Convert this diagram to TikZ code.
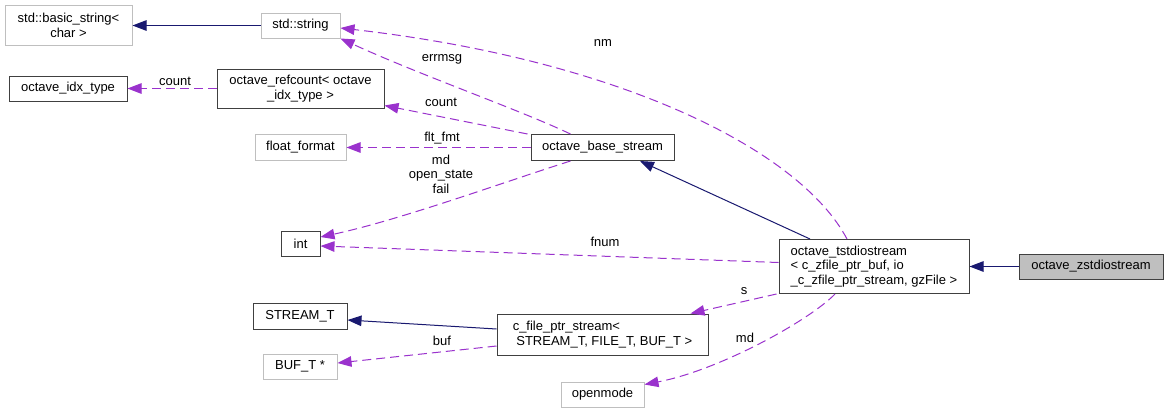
\documentclass[tikz,border=0pt]{standalone}
\usepackage{fontspec}
\setmainfont{Liberation Sans}
\usetikzlibrary{arrows.meta}
\definecolor{edgeblue}{HTML}{191970}
\definecolor{edgepurple}{HTML}{9A32CD}
\definecolor{grayborder}{HTML}{BFBFBF}
\definecolor{darkborder}{HTML}{404040}
\begin{document}
\begin{tikzpicture}[x=1pt,y=-1pt,
  box/.style={draw=darkborder, line width=1pt, inner sep=0pt, font=\fontsize{13}{14.5}\selectfont, align=center},
  graybox/.style={box, draw=grayborder},
  inh/.style={draw=edgeblue, line width=1pt, -{Triangle[length=14pt,width=10.5pt]}},
  use/.style={draw=edgepurple, line width=1pt, dash pattern=on 9pt off 5pt, -{Triangle[length=14pt,width=10.5pt]}},
  lbl/.style={inner sep=0pt, font=\fontsize{13}{14.5}\selectfont, align=center}]
\useasboundingbox (0,0) rectangle (1167,413);
\fill[white] (0,0) rectangle (1167,413);

% nodes
\node[graybox, minimum width=127pt, minimum height=40pt] (basic) at (68.5,25.5) {std::basic\_string<\\char >};
\node[graybox, minimum width=79pt, minimum height=25pt] (string) at (300.5,25.5) {std::string};
\node[box, minimum width=118pt, minimum height=25pt] (idx) at (68,88.5) {octave\_idx\_type};
\node[box, minimum width=167pt, minimum height=39pt] (refcount) at (300.5,88.5) {octave\_refcount< octave\\\_idx\_type >};
\node[graybox, minimum width=91pt, minimum height=26pt] (float) at (300.5,147.5) {float\_format};
\node[box, minimum width=39pt, minimum height=25pt] (int) at (300.5,243.5) {int};
\node[box, minimum width=143pt, minimum height=26pt] (base) at (602.5,147.5) {octave\_base\_stream};
\node[box, minimum width=190pt, minimum height=54pt, align=left] (tstd) at (874,266.5) {octave\_tstdiostream\\< c\_zfile\_ptr\_buf, io\\\_c\_zfile\_ptr\_stream, gzFile >};
\node[box, fill=grayborder, minimum width=144pt, minimum height=25pt] (zstd) at (1091,266.5) {octave\_zstdiostream};
\node[box, minimum width=94pt, minimum height=26pt] (streamt) at (300,316) {STREAM\_T};
\node[box, minimum width=211pt, minimum height=41pt, align=left] (cfile) at (602.5,334.5) {c\_file\_ptr\_stream<\\\hspace{3.6pt}STREAM\_T, FILE\_T, BUF\_T >};
\node[graybox, minimum width=74pt, minimum height=25pt] (buft) at (300,366.5) {BUF\_T *};
\node[graybox, minimum width=83pt, minimum height=25pt] (openmode) at (602.5,394.5) {openmode};

% inheritance edges
\draw[inh] (string.west) -- (basic.east);
\draw[inh] ([xshift=-64pt]tstd.north) -- ([xshift=37.5pt]base.south);
\draw[inh] (zstd.west) -- (tstd.east);
\draw[inh] ([yshift=5.5pt]cfile.west) -- ([yshift=-4pt]streamt.east);

% usage edges
\draw[use] (refcount.west) -- (idx.east);
\draw[use] ([xshift=-32pt]base.north) .. controls (520,110) and (420,75) .. (string.south east);
\draw[use] ([xshift=-3pt]base.north west) -- ([yshift=3pt]refcount.south east);
\draw[use] (base.west) -- (float.east);
\draw[use] ([xshift=-32pt]base.south) .. controls (510,180) and (400,220) .. ([yshift=6.5pt]int.east);
\draw[use] ([yshift=4pt]tstd.west) -- ([yshift=-2.5pt]int.east);
\draw[use] ([xshift=-27pt]tstd.north) .. controls (800,150) and (620,60) .. ([yshift=-2.5pt]string.east);
\draw[use] ([xshift=-2pt]tstd.south west) -- ([xshift=-18pt]cfile.north east);
\draw[use] ([xshift=-39pt]tstd.south) .. controls (810,320) and (720,370) .. ([yshift=10pt]openmode.east);
\draw[use] ([yshift=-11.5pt]cfile.west) -- ([yshift=3.5pt]buft.east);

% labels
\node[lbl] (l1) at (175,81) {count};
\node[lbl] (l2) at (442,59) {errmsg};
\node[lbl] (l3) at (441,102) {count};
\node[lbl] (l4) at (442,138) {flt\_fmt};
\node[lbl] (l5) at (441,174) {md\\open\_state\\fail};
\node[lbl] (l6) at (603,43) {nm};
\node[lbl] (l7) at (605,242) {fnum};
\node[lbl] (l8) at (744,291) {s};
\node[lbl] (l9) at (745,338) {md};
\node[lbl] (l10) at (442,341) {buf};
\end{tikzpicture}
\end{document}
